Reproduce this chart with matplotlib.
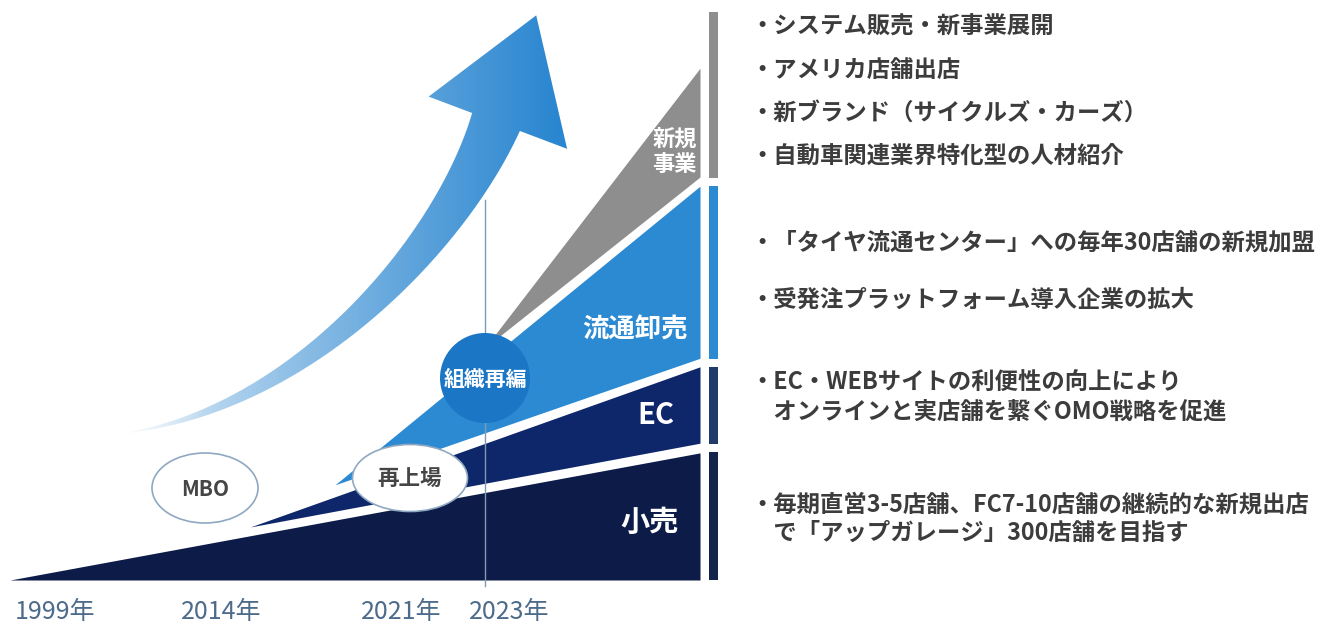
import numpy as np
import matplotlib
matplotlib.use('Agg')
import matplotlib.pyplot as plt
from matplotlib.patches import Ellipse, Circle, PathPatch
from matplotlib.path import Path
from matplotlib.colors import to_rgb

plt.rcParams['font.family'] = ['Noto Sans CJK JP', 'DejaVu Sans']

# データ: 事業セグメント（成長の広がり）
segments = ['小売', 'EC', '流通卸売', '新規事業']
seg_start_x = [0.0, 34.8, 47.1, 68.8]      # 事業開始の時間軸位置
seg_start_y = [0.0, 9.3, 16.7, 40.7]       # 開始時の高さ
seg_end_low = [0.0, 24.0, 38.9, 70.7]      # 右端での下限
seg_end_high = [22.3, 37.4, 69.1, 89.8]    # 右端での上限
seg_colors = ['#0c1b47', '#0e276a', '#2b8ad2', '#8e8e8e']
bar_colors = ['#13254a', '#1f3a6b', '#2b8ad2', '#8e8e8e']
seg_labels = ['小売', 'EC', '流通卸売', '新規\n事業']

years = ['1999年', '2014年', '2021年', '2023年']
events = ['MBO', '再上場', '組織再編']

notes = [
    ['・システム販売・新事業展開', '・アメリカ店舗出店',
     '・新ブランド（サイクルズ・カーズ）', '・自動車関連業界特化型の人材紹介'],
    ['・「タイヤ流通センター」への毎年30店舗の新規加盟',
     '・受発注プラットフォーム導入企業の拡大'],
    ['・EC・WEBサイトの利便性の向上により', '　オンラインと実店舗を繋ぐOMO戦略を促進'],
    ['・毎期直営3-5店舗、FC7-10店舗の継続的な新規出店', '　で「アップガレージ」300店舗を目指す'],
]

W, H = 1326, 633
fig = plt.figure(figsize=(W / 100, H / 100), dpi=100)

# 下層: 事業ウェッジ
ax = fig.add_axes([10 / W, (H - 580) / H, 690 / W, 570 / H])
ax.set_xlim(0, 100)
ax.set_ylim(0, 100)
ax.axis('off')
for i, name in enumerate(segments):
    xs = [seg_start_x[i], 100]
    ax.fill_between(xs, [seg_start_y[i], seg_end_low[i]],
                    [seg_start_y[i], seg_end_high[i]],
                    color=seg_colors[i], lw=0)

# 右端の縦バー
bounds = [0.0]
for i in range(len(segments) - 1):
    bounds.append((seg_end_high[i] + seg_end_low[i + 1]) / 2)
bounds.append(99.6)
gap = 0.7
for i in range(len(segments)):
    lo = bounds[i] + (gap if i > 0 else 0)
    hi = bounds[i + 1] - (gap if i < len(segments) - 1 else 0)
    ax.fill_between([101.3, 102.6], lo, hi, color=bar_colors[i], lw=0, clip_on=False)

# 上層: 装飾とテキスト（ピクセル座標）
ov = fig.add_axes([0, 0, 1, 1], zorder=5)
ov.set_xlim(0, W)
ov.set_ylim(H, 0)
ov.axis('off')
ov.patch.set_alpha(0)

# 2023年の縦線
ov.plot([485, 485], [200, 586], color='#7f9ab4', lw=1, zorder=2)

# 曲線矢印
P0, P1, P2, P3 = map(np.array, [(118, 434), (300, 412), (450, 244), (496, 122)])
t = np.linspace(0, 1, 200)[:, None]
c = (1 - t) ** 3 * P0 + 3 * (1 - t) ** 2 * t * P1 + 3 * (1 - t) * t ** 2 * P2 + t ** 3 * P3
d = 3 * (1 - t) ** 2 * (P1 - P0) + 6 * (1 - t) * t * (P2 - P1) + 3 * t ** 2 * (P3 - P2)
d = d / np.linalg.norm(d, axis=1, keepdims=True)
n = np.column_stack([d[:, 1], -d[:, 0]])
w = 51 * t ** 1.1
upper = c + n * w / 2
lower = c - n * w / 2
nend = n[-1]
left_barb = P3 + nend * 72
right_barb = P3 - nend * 76
tip = P3 + d[-1] * 114
verts = np.vstack([lower, right_barb, tip, left_barb, upper[::-1]])
arrow = PathPatch(Path(verts), facecolor='none', edgecolor='none')
ov.add_patch(arrow)
gx = np.linspace(110, 580, 300)
tx = np.clip((gx - 115) / (560 - 115), 0, 1) ** 0.7
blue = np.array(to_rgb('#2a86d0'))
img = np.ones((2, 300, 4))
img[:, :, :3] = (1 - tx)[None, :, None] * 1.0 + tx[None, :, None] * blue
img[:, :, 3] = np.clip(tx * 3, 0, 1)
im = ov.imshow(img, extent=(110, 580, 450, 5), aspect='auto', zorder=3, interpolation='bilinear')
im.set_clip_path(arrow)
ov.set_xlim(0, W)
ov.set_ylim(H, 0)

# イベント
ov.add_patch(Ellipse((205, 488), 106, 70, facecolor='white', edgecolor='#8fa8c2', lw=1.2, zorder=4))
ov.text(205, 489, events[0], ha='center', va='center', fontsize=15, color='#454545', fontweight='bold', zorder=5)
ov.add_patch(Ellipse((410, 478), 115, 67, facecolor='white', edgecolor='#8fa8c2', lw=1.2, zorder=4))
ov.text(410, 478, events[1], ha='center', va='center', fontsize=15.5, color='#454545', fontweight='bold', zorder=5)
ov.add_patch(Circle((485, 378), 45, facecolor='#1b76c6', edgecolor='none', zorder=4))
ov.text(485, 379, events[2], ha='center', va='center', fontsize=15, color='white', fontweight='bold', zorder=5)

# セグメント名
ov.text(697, 152, seg_labels[3], ha='right', va='center', fontsize=16, color='white',
        fontweight='bold', linespacing=1.15, zorder=5)
ov.text(688, 330, seg_labels[2], ha='right', va='center', fontsize=19, color='white', fontweight='bold', zorder=5)
ov.text(674, 415, seg_labels[1], ha='right', va='center', fontsize=21, color='white', fontweight='bold', zorder=5)
ov.text(679, 522, seg_labels[0], ha='right', va='center', fontsize=21, color='white', fontweight='bold', zorder=5)

# 年ラベル
for lab, x in zip(years, [55, 221, 401, 509]):
    ov.text(x, 612, lab, ha='center', va='center', fontsize=18, color='#4d6b8a', zorder=5)

# 右側の説明
note_y = [[27, 70, 113, 156], [243, 300], [383, 412], [505, 533]]
for group, ys in zip(notes, note_y):
    for line, y in zip(group, ys):
        ov.text(750, y, line, ha='left', va='center', fontsize=16.8, color='#3c3c3c',
                fontweight='bold', zorder=5)

fig.savefig('out.png', dpi=100)
